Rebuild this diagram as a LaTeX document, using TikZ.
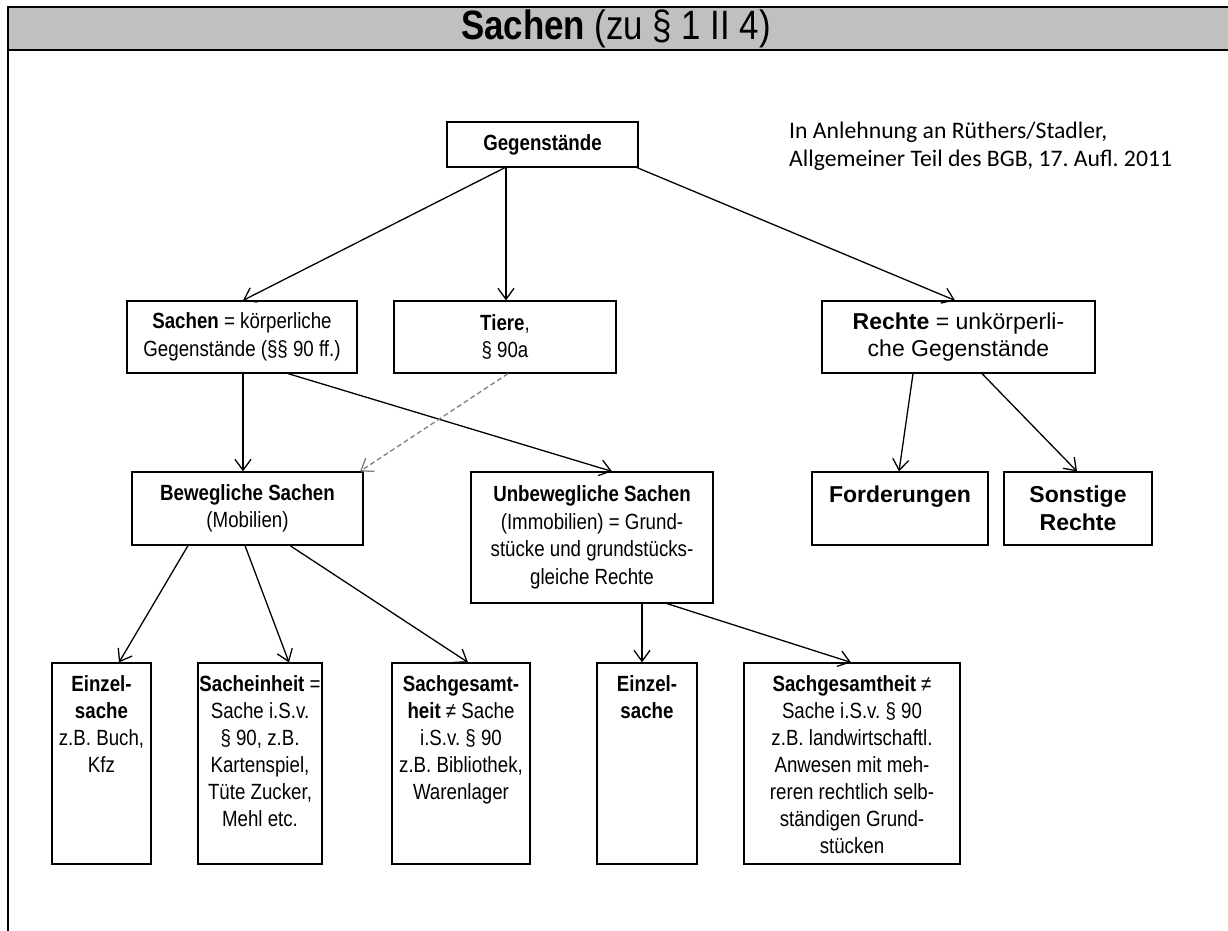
\documentclass[tikz,border=0pt]{standalone}
\usepackage{fontspec}
\setmainfont{Liberation Sans}
\newfontfamily\narrowsans{Liberation Sans}[FakeStretch=0.85]
\newfontfamily\citefont{Carlito}
\usetikzlibrary{arrows.meta}
\definecolor{titlegray}{RGB}{192,192,192}
\definecolor{dashgray}{RGB}{128,128,128}
\frenchspacing
\begin{document}
\begin{tikzpicture}[x=1pt,y=-1pt,
  box/.style={draw, line width=1.2pt, inner sep=0pt, align=center, font=\narrowsans\fontsize{22}{27.5}\selectfont},
  rbox/.style={box, font=\fontsize{23}{27.5}\selectfont},
  txt/.style={inner sep=0pt, align=center, font=\narrowsans\fontsize{22}{27}\selectfont, anchor=north},
  rtxt/.style={txt, font=\fontsize{23}{27.5}\selectfont},
  arr/.style={line width=1.3pt, -{Straight Barb[length=11pt,width=16pt]}},
  darr/.style={arr, dashgray, dash pattern=on 5pt off 3pt}]
\useasboundingbox (0,0) rectangle (1228,930);
% title bar and frame
\fill[titlegray] (8,7) rectangle (1240,50);
\draw[line width=2.5pt] (1240,7) -- (8,7) -- (8,50) -- (1240,50);
\draw[line width=2pt] (8,50) -- (8,940);
\node[inner sep=0pt, font=\narrowsans\fontsize{41}{45}\selectfont] (title) at (616,29) {\textbf{Sachen} (zu § 1 II 4)};
% citation
\node[anchor=north west, inner sep=0pt, align=left, font=\citefont\fontsize{23.7}{28}\selectfont] (cite) at (789,122) {In Anlehnung an Rüthers/Stadler,\\Allgemeiner Teil des BGB, 17. Aufl. 2011};
% boxes
\node[box, minimum width=191pt, minimum height=45pt] (geg) at (542.5,144.5) {\textbf{Gegenstände}};
\node[box, minimum width=230pt, minimum height=72pt] (sachen) at (242,337) {\textbf{Sachen} = körperliche\\Gegenstände (§§ 90 ff.)};
\node[box, minimum width=222pt, minimum height=72pt] (tiere) at (505,337) {\textbf{Tiere},\\§ 90a};
\node[rbox, minimum width=273pt, minimum height=72pt] (rechte) at (958.5,337) {\textbf{Rechte} = unkörperli-\\che Gegenstände};
\node[box, minimum width=231pt, minimum height=73pt] (beweg) at (247.5,508.5) {\textbf{Bewegliche Sachen}\\(Mobilien)};
\node[box, minimum width=242pt, minimum height=131pt] (unbew) at (592,537.5) {\textbf{Unbewegliche Sachen}\\(Immobilien) = Grund-\\stücke und grundstücks-\\gleiche Rechte};
\node[box, minimum width=176pt, minimum height=73pt] (ford) at (900,508.5) {};
\node[rtxt] (fordt) at ([yshift=-14.5pt]ford.north) {\textbf{Forderungen}};
\node[box, minimum width=148pt, minimum height=73pt] (sonst) at (1078,508.5) {};
\node[rtxt] (sonstt) at ([yshift=-14.5pt]sonst.north) {\textbf{Sonstige}\\\textbf{Rechte}};
\node[box, minimum width=99pt, minimum height=201pt] (e1) at (101.5,763.5) {};
\node[txt] (e1t) at ([yshift=-13pt]e1.north) {\textbf{Einzel-}\\\textbf{sache}\\z.B. Buch,\\Kfz};
\node[box, minimum width=124pt, minimum height=201pt] (se) at (260,763.5) {};
\node[txt] (set) at ([yshift=-13pt]se.north) {\textbf{Sacheinheit} =\\Sache i.S.v.\\§ 90, z.B.\\Kartenspiel,\\Tüte Zucker,\\Mehl etc.};
\node[box, minimum width=138pt, minimum height=201pt] (sg) at (461,763.5) {};
\node[txt] (sgt) at ([yshift=-13pt]sg.north) {\textbf{Sachgesamt-}\\\textbf{heit} ≠ Sache\\i.S.v. § 90\\z.B. Bibliothek,\\Warenlager};
\node[box, minimum width=100pt, minimum height=201pt] (e2) at (647,763.5) {};
\node[txt] (e2t) at ([yshift=-13pt]e2.north) {\textbf{Einzel-}\\\textbf{sache}};
\node[box, minimum width=216pt, minimum height=201pt] (sg2) at (852,763.5) {};
\node[txt] (sg2t) at ([yshift=-13pt]sg2.north) {\textbf{Sachgesamtheit} ≠\\Sache i.S.v. § 90\\z.B. landwirtschaftl.\\Anwesen mit meh-\\reren rechtlich selb-\\ständigen Grund-\\stücken};
% connectors
\draw[arr] (505,0 |- geg.south) -- (243,0 |- sachen.north);
\draw[arr] (506,0 |- geg.south) -- (506,0 |- tiere.north);
\draw[arr] (637,0 |- geg.south) -- (955,0 |- rechte.north);
\draw[arr] (243,0 |- sachen.south) -- (243,0 |- beweg.north);
\draw[arr] (288,0 |- sachen.south) -- (612,0 |- unbew.north);
\draw[darr] (508,0 |- tiere.south) -- (360,0 |- beweg.north);
\draw[arr] (913,0 |- rechte.south) -- (899,0 |- ford.north);
\draw[arr] (982,0 |- rechte.south) -- (1077,0 |- sonst.north);
\draw[arr] (188,0 |- beweg.south) -- (119,0 |- e1.north);
\draw[arr] (245,0 |- beweg.south) -- (289,0 |- se.north);
\draw[arr] (290,0 |- beweg.south) -- (468,0 |- sg.north);
\draw[arr] (642,0 |- unbew.south) -- (642,0 |- e2.north);
\draw[arr] (667,0 |- unbew.south) -- (851,0 |- sg2.north);
\end{tikzpicture}
\end{document}
